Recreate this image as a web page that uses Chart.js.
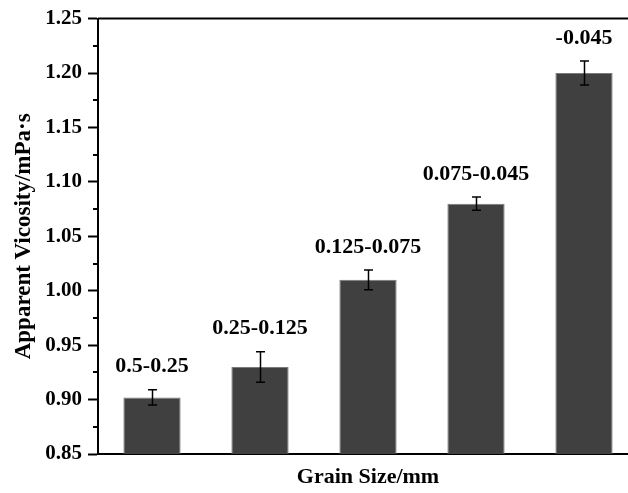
<!DOCTYPE html>
<html>
<head>
<meta charset="utf-8">
<script src="https://cdn.jsdelivr.net/npm/chart.js@4/dist/chart.umd.min.js"></script>
<style>
  html, body { margin: 0; padding: 0; overflow: hidden; background: #fff; }
  #wrap { width: 650px; height: 493px; }
</style>
</head>
<body>
<div id="wrap"><canvas id="js-chart"></canvas></div>
<script>
"use strict";

// 粒度ごとの見かけ粘度
const grainSizes = ["0.5-0.25", "0.25-0.125", "0.125-0.075", "0.075-0.045", "-0.045"];
const viscosity = [0.902, 0.930, 1.010, 1.080, 1.200];
const viscosityErr = [0.007, 0.014, 0.009, 0.006, 0.011];
const yTicks = [0.85, 0.90, 0.95, 1.00, 1.05, 1.10, 1.15, 1.20, 1.25];

const serif = "'Liberation Serif', 'Times New Roman', serif";

// 枠線・副目盛り・エラーバー・ラベル
const extras = {
  id: "extras",
  afterDatasetsDraw(chart) {
    const ctx = chart.ctx;
    const area = chart.chartArea;
    const y = chart.scales.y;
    const meta = chart.getDatasetMeta(0);

    ctx.save();
    // minor ticks
    ctx.strokeStyle = "#000";
    ctx.lineWidth = 2;
    for (let i = 0; i < yTicks.length - 1; i++) {
      const py = Math.round(y.getPixelForValue((yTicks[i] + yTicks[i + 1]) / 2));
      ctx.beginPath();
      ctx.moveTo(area.left - 5, py);
      ctx.lineTo(area.left, py);
      ctx.stroke();
    }
    // frame
    ctx.beginPath();
    ctx.moveTo(area.left, area.top);
    ctx.lineTo(area.right, area.top);
    ctx.lineTo(area.right, area.bottom);
    ctx.stroke();

    // error bars + labels
    ctx.lineWidth = 1.5;
    ctx.font = "bold 22px " + serif;
    ctx.fillStyle = "#000";
    ctx.textAlign = "center";
    ctx.textBaseline = "middle";
    meta.data.forEach((bar, i) => {
      const x = Math.round(bar.x) + 0.5;
      const hi = y.getPixelForValue(viscosity[i] + viscosityErr[i]);
      const lo = y.getPixelForValue(viscosity[i] - viscosityErr[i]);
      ctx.beginPath();
      ctx.moveTo(x, hi);
      ctx.lineTo(x, lo);
      ctx.moveTo(x - 4.5, hi);
      ctx.lineTo(x + 4.5, hi);
      ctx.moveTo(x - 4.5, lo);
      ctx.lineTo(x + 4.5, lo);
      ctx.stroke();
      ctx.fillText(grainSizes[i], bar.x, hi - 23);
    });
    ctx.restore();
  },
};

const ctx = document.getElementById("js-chart").getContext("2d");
new Chart(ctx, {
  type: "bar",
  data: {
    labels: grainSizes,
    datasets: [
      {
        data: viscosity,
        backgroundColor: "#404040",
        borderColor: "#7a7a7a",
        borderWidth: 1,
        barPercentage: 0.53,
        categoryPercentage: 1,
      },
    ],
  },
  options: {
    responsive: true,
    maintainAspectRatio: false,
    animation: false,
    layout: { padding: { top: 17, right: 12, left: 0, bottom: 0 } },
    plugins: {
      legend: { display: false },
      tooltip: { enabled: false },
    },
    scales: {
      x: {
        grid: { display: false, drawTicks: false },
        border: { color: "#000", width: 2 },
        ticks: { display: false },
        title: {
          display: true,
          text: "Grain Size/mm",
          color: "#000",
          font: { family: serif, size: 22, weight: "bold" },
          padding: { top: 0, bottom: 2 },
        },
        afterFit(scale) { scale.height = 39; },
      },
      y: {
        min: 0.85,
        max: 1.25,
        grid: {
          drawOnChartArea: false,
          drawTicks: true,
          tickLength: 10,
          tickWidth: 2,
          tickColor: "#000",
        },
        border: { color: "#000", width: 2 },
        ticks: {
          stepSize: 0.05,
          color: "#000",
          padding: 6,
          font: { family: serif, size: 21, weight: "bold" },
          callback: (v) => Number(v).toFixed(2),
        },
        title: {
          display: true,
          text: "Apparent Vicosity/mPa·s",
          color: "#000",
          font: { family: serif, size: 23, weight: "bold" },
          padding: { top: 10, bottom: 0 },
        },
        afterFit(scale) { scale.width = 98; },
      },
    },
  },
  plugins: [extras],
});
</script>
</body>
</html>
